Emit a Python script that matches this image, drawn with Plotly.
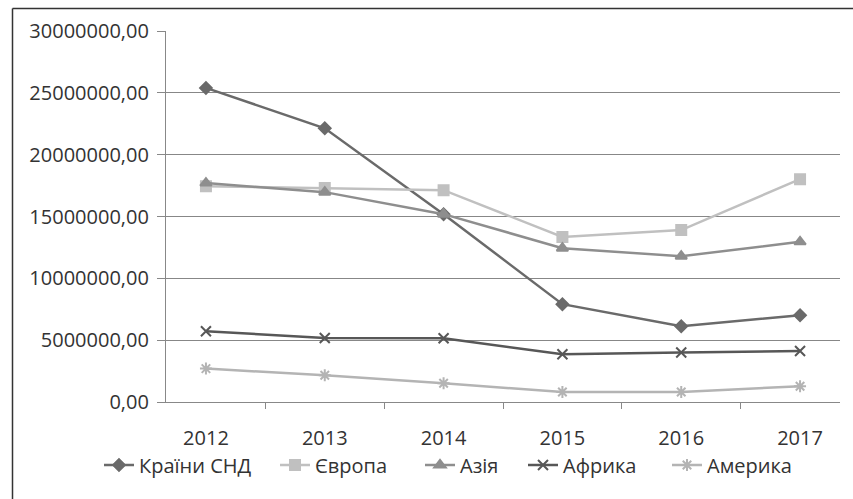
import plotly.graph_objects as go

years = ["2012", "2013", "2014", "2015", "2016", "2017"]
cis = [25400000, 22130000, 15190000, 7910000, 6130000, 7020000]
europe = [17450000, 17300000, 17130000, 13350000, 13900000, 18020000]
asia = [17700000, 16970000, 15190000, 12440000, 11790000, 12950000]
africa = [5720000, 5180000, 5160000, 3860000, 4000000, 4130000]
america = [2700000, 2160000, 1510000, 810000, 810000, 1270000]

series_names = ["Країни СНД", "Європа", "Азія", "Африка", "Америка"]
series_vals = [cis, europe, asia, africa, america]
colors = ["#6a6a6a", "#c0c0c0", "#8e8e8e", "#575757", "#b4b4b4"]
symbols = ["diamond", "square", "triangle-up", "x-thin-open", "asterisk-open"]
msizes = [9, 10, 10, 10, 10]
legend_starts = [105, 281, 426, 529, 673]

y_ticks = [0, 5000000, 10000000, 15000000, 20000000, 25000000, 30000000]
y_tick_text = ["0,00", "5000000,00", "10000000,00", "15000000,00",
               "20000000,00", "25000000,00", "30000000,00"]

FONT = "Open Sans"
FS = 20

W, H = 853, 499
L, R, T, B = 166, 13, 31, 97
pw, ph = W - L - R, H - T - B

def px(x):
    return (x - L) / pw

def py(y):
    return (H - B - y) / ph

fig = go.Figure()
legends = {}
for i, (name, vals, c, s, ms, ls) in enumerate(zip(series_names, series_vals, colors, symbols, msizes, legend_starts)):
    lg = "legend" if i == 0 else f"legend{i+1}"
    fig.add_trace(go.Scatter(
        x=years, y=vals, name=name, mode="lines+markers",
        line=dict(color=c, width=2.5),
        marker=dict(symbol=s, size=ms, color=c, line=dict(color=c, width=2)),
        legend=lg,
    ))
    legends[lg] = dict(orientation="h", x=px(ls - 6), xanchor="left", y=py(465), yanchor="middle",
                       font=dict(family=FONT, size=FS, color="#333333"),
                       itemwidth=30, bgcolor="rgba(0,0,0,0)", borderwidth=0)

fig.update_layout(
    width=W, height=H,
    margin=dict(l=L, r=R, t=T, b=B),
    paper_bgcolor="white", plot_bgcolor="white",
    font=dict(family=FONT, size=FS, color="#333333"),
    showlegend=True,
    xaxis=dict(type="category", tickson="boundaries", ticks="outside", ticklen=6,
               tickcolor="#888888", showline=True, linecolor="#888888", linewidth=1.2,
               showgrid=False, tickfont=dict(family=FONT, size=FS, color="#333333"),
               ticklabelstandoff=18),
    yaxis=dict(range=[0, 30000000], tickvals=y_ticks, ticktext=y_tick_text,
               ticks="outside", ticklen=8, tickcolor="#888888",
               showline=True, linecolor="#888888", linewidth=1.2,
               showgrid=True, gridcolor="#878787", gridwidth=1.2, zeroline=False,
               tickfont=dict(family=FONT, size=FS, color="#333333"),
               ticklabelstandoff=4),
    shapes=[
        dict(type="line", xref="paper", yref="paper", x0=px(12.5), x1=px(853), y0=py(8.5), y1=py(8.5),
             line=dict(color="#333333", width=1.5)),
        dict(type="line", xref="paper", yref="paper", x0=px(12.5), x1=px(12.5), y0=py(8.5), y1=py(499),
             line=dict(color="#333333", width=1.5)),
    ],
    **legends,
)

fig.write_html("out.html")
